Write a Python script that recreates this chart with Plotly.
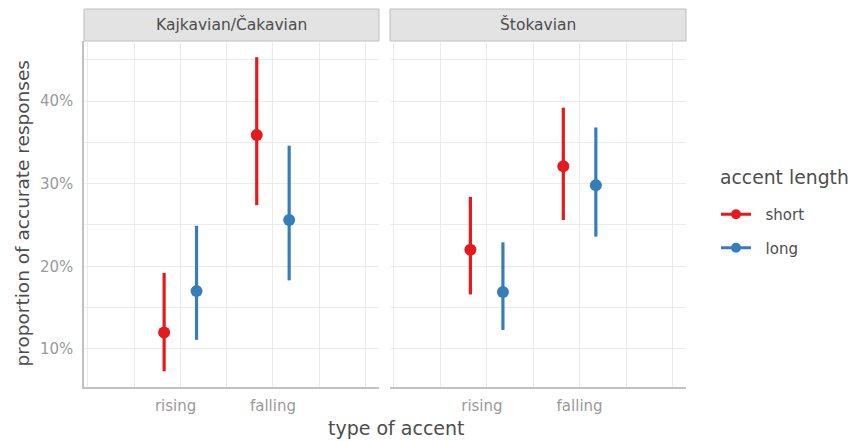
import plotly.graph_objects as go

# ---- data (percent) ----
panels = ["Kajkavian/Čakavian", "Štokavian"]
categories = ["rising", "falling"]
lengths = ["short", "long"]
colors = {"short": "#E41A1C", "long": "#377EB8"}

short_est = {"Kajkavian/Čakavian": [12.0, 35.9], "Štokavian": [22.0, 32.1]}
short_low = {"Kajkavian/Čakavian": [7.3, 27.4], "Štokavian": [16.6, 25.6]}
short_high = {"Kajkavian/Čakavian": [19.2, 45.3], "Štokavian": [28.4, 39.2]}
long_est = {"Kajkavian/Čakavian": [17.0, 25.6], "Štokavian": [16.9, 29.8]}
long_low = {"Kajkavian/Čakavian": [11.1, 18.3], "Štokavian": [12.3, 23.6]}
long_high = {"Kajkavian/Čakavian": [24.9, 34.6], "Štokavian": [22.9, 36.8]}

y_ticks = [10, 20, 30, 40]

W, H = 852, 441
FONT = "DejaVu Sans"

series = {
    "short": (short_est, short_low, short_high, -0.175),
    "long": (long_est, long_low, long_high, 0.175),
}

fig = go.Figure()

for pi, panel in enumerate(panels):
    xa = "x" if pi == 0 else "x2"
    ya = "y" if pi == 0 else "y2"
    for ln in lengths:
        est, low, high, off = series[ln]
        xs = [i + 1 + off for i in range(len(categories))]
        ys = est[panel]
        fig.add_trace(go.Scatter(
            x=xs, y=ys, xaxis=xa, yaxis=ya, mode="markers",
            marker=dict(color=colors[ln], size=12),
            error_y=dict(type="data", symmetric=False,
                         array=[h - v for h, v in zip(high[panel], ys)],
                         arrayminus=[v - l for v, l in zip(ys, low[panel])],
                         color=colors[ln], thickness=3.2, width=0),
            showlegend=False, hoverinfo="skip"))

for ln in lengths:
    fig.add_trace(go.Scatter(
        x=[None], y=[None], mode="lines+markers", name="\u00a0\u00a0" + ln,
        line=dict(color=colors[ln], width=3),
        marker=dict(color=colors[ln], size=10),
        legendgroup=ln, showlegend=True))

def px_x(p):
    return p / W

def px_y(p):
    return (H - p) / H

panel_px = [(84, 379), (390, 686)]
top_px, bot_px = 41, 387
strip_top = 9

grid_col = "#ebebeb"
axis_col = "#c2c2c2"
tick_font = dict(family=FONT, size=15, color="#9a9a9a")

xcommon = dict(
    range=[-0.04, 3.145], tickmode="array", tickvals=[0, 1, 2, 3],
    ticktext=["", "rising\u00a0\u00a0", "falling", ""],
    showgrid=True, gridcolor=grid_col, gridwidth=1,
    minor=dict(tickvals=[0.5, 1.5, 2.5], showgrid=True, gridcolor=grid_col, gridwidth=1),
    showline=True, linecolor=axis_col, linewidth=1.5, zeroline=False,
    ticks="", tickfont=tick_font, ticklabelstandoff=4, fixedrange=True,
)
ycommon = dict(
    range=[5.4, 47.26], tickmode="linear", tick0=0, dtick=10, ticksuffix="%",
    showgrid=True, gridcolor=grid_col, gridwidth=1,
    minor=dict(dtick=5, tick0=0, showgrid=True, gridcolor=grid_col, gridwidth=1),
    zeroline=False, ticks="", tickfont=tick_font, domain=[px_y(bot_px), px_y(top_px)],
    fixedrange=True,
)

fig.update_layout(
    width=W, height=H, margin=dict(l=0, r=0, t=0, b=0),
    paper_bgcolor="white", plot_bgcolor="white",
    font=dict(family=FONT, color="#4d4d4d"),
    xaxis=dict(xcommon, domain=[px_x(panel_px[0][0]), px_x(panel_px[0][1])], anchor="y"),
    xaxis2=dict(xcommon, domain=[px_x(panel_px[1][0]), px_x(panel_px[1][1])], anchor="y2"),
    yaxis=dict(ycommon, anchor="x", showline=True, linecolor=axis_col, linewidth=1.5,
               ticklabelstandoff=6),
    yaxis2=dict(ycommon, anchor="x2", matches="y", showticklabels=False, showline=False),
    legend=dict(
        x=px_x(716), y=px_y(198), xanchor="left", yanchor="top",
        font=dict(family=FONT, size=15, color="#4d4d4d"),
        traceorder="grouped", tracegroupgap=11, bgcolor="rgba(0,0,0,0)",
    ),
    showlegend=True,
)

shapes = []
annotations = []
for pi, panel in enumerate(panels):
    x0, x1 = panel_px[pi]
    shapes.append(dict(type="rect", xref="paper", yref="paper",
                       x0=px_x(x0), x1=px_x(x1), y0=px_y(top_px), y1=px_y(strip_top),
                       fillcolor="#e3e3e3", line=dict(color="#bdbdbd", width=1), layer="below"))
    annotations.append(dict(text=panel, xref="paper", yref="paper",
                            x=px_x((x0 + x1) / 2), y=px_y((top_px + strip_top) / 2),
                            xanchor="center", yanchor="middle", showarrow=False,
                            font=dict(family=FONT, size=15.5, color="#4d4d4d")))

annotations.append(dict(text="accent length", xref="paper", yref="paper",
                        x=px_x(718), y=px_y(177), xanchor="left", yanchor="middle",
                        showarrow=False,
                        font=dict(family=FONT, size=18.8, color="#4d4d4d")))
annotations.append(dict(text="type of accent", xref="paper", yref="paper",
                        x=px_x(396), y=px_y(428),
                        xanchor="center", yanchor="middle", showarrow=False,
                        font=dict(family=FONT, size=19, color="#4d4d4d")))
annotations.append(dict(text="proportion of accurate responses", xref="paper", yref="paper",
                        x=px_x(22), y=px_y(213.5), textangle=-90,
                        xanchor="center", yanchor="middle", showarrow=False,
                        font=dict(family=FONT, size=18.5, color="#4d4d4d")))

fig.update_layout(shapes=shapes, annotations=annotations)
fig.write_html("out.html", config={"displayModeBar": False},
               post_script="document.body.style.margin='0';document.body.style.overflow='hidden';")
